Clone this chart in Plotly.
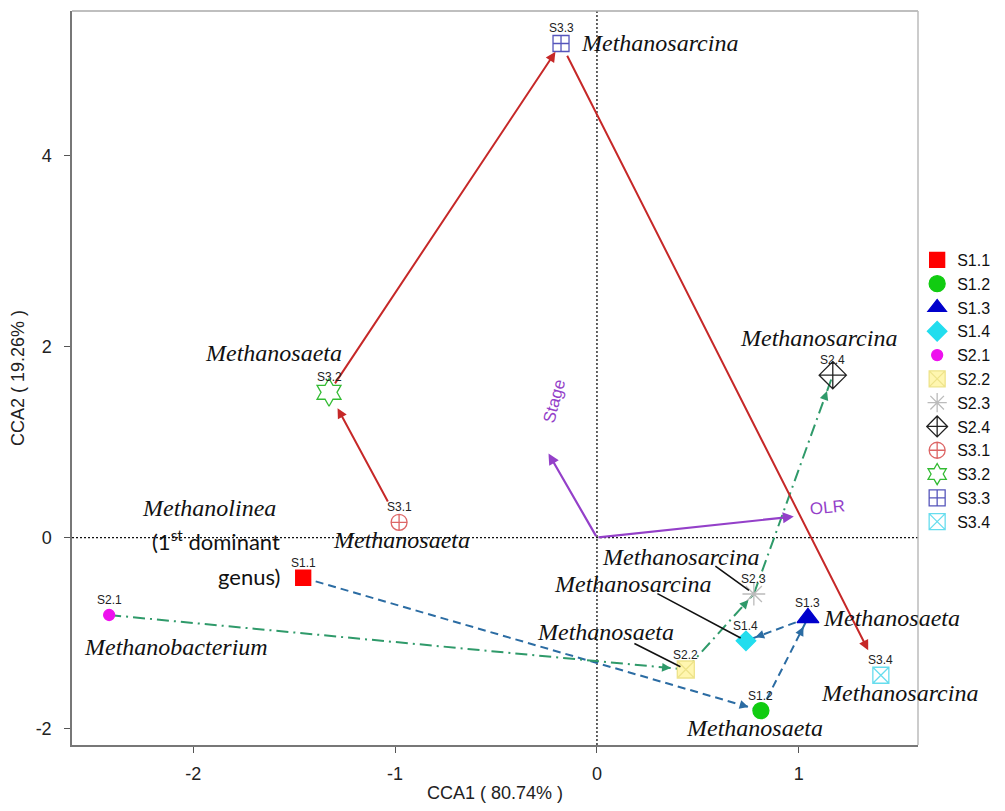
import math
import plotly.graph_objects as go

# ---------------- data ----------------
samples = ["S1.1", "S1.2", "S1.3", "S1.4", "S2.1", "S2.2", "S2.3", "S2.4",
           "S3.1", "S3.2", "S3.3", "S3.4"]
cca1 = [-1.455, 0.812, 1.045, 0.738, -2.416, 0.440, 0.777, 1.168,
        -0.980, -1.327, -0.178, 1.406]
cca2 = [-0.42, -1.81, -0.84, -1.08, -0.81, -1.38, -0.59, 1.70,
        0.16, 1.52, 5.17, -1.44]

env_names = ["Stage", "OLR"]
env_cca1 = [-0.24, 0.975]
env_cca2 = [0.88, 0.22]

stage1_path = ["S1.1", "S1.2", "S1.3", "S1.4"]
stage2_path = ["S2.1", "S2.2", "S2.3", "S2.4"]
stage3_path = ["S3.1", "S3.2", "S3.3", "S3.4"]

x_ticks = [-2, -1, 0, 1]
x_tick_text = ["-2", "-1", "0", "1"]
y_ticks = [-2, 0, 2, 4]
y_tick_text = ["-2", "0", "2", "4"]

x_title = "CCA1 ( 80.74% )"
y_title = "CCA2 ( 19.26% )"

# genus labels: text, x, y, xanchor
genus_labels = [
    ("Methanosarcina", -0.089, 5.17, "left"),
    ("Methanosaeta", -1.60, 1.93, "center"),
    ("Methanosaeta", -1.317, -0.025, "left"),
    ("Methanobacterium", -2.084, -1.145, "center"),
    ("Methanosarcina", 1.099, 2.09, "center"),
    ("Methanosarcina", 0.414, -0.20, "center"),
    ("Methanosarcina", 0.178, -0.485, "center"),
    ("Methanosaeta", 0.040, -0.985, "center"),
    ("Methanosaeta", 1.109, -0.84, "left"),
    ("Methanosarcina", 1.099, -1.625, "left"),
    ("Methanosaeta", 0.782, -1.99, "center"),
]
# leader lines: start (x, y) -> sample
leaders = [
    (0.579, -0.287, "S2.3"),
    (0.292, -0.578, "S1.4"),
    (0.178, -1.100, "S2.2"),
]

# ---------------- styles ----------------
styles = {
    "S1.1": dict(symbol="square", color="#FF0000", size=15, line="#FF0000"),
    "S1.2": dict(symbol="circle", color="#11CC11", size=16, line="#11CC11"),
    "S1.3": dict(symbol="triangle-up", color="#0000CC", size=19, line="#0000CC"),
    "S1.4": dict(symbol="diamond", color="#22DDEE", size=15, line="#22DDEE"),
    "S2.1": dict(symbol="circle", color="#EE11EE", size=11, line="#EE11EE"),
    "S2.2": dict(symbol="square-x", color="#FFF6B0", size=17, line="#EEE38A"),
    "S2.3": dict(symbol="asterisk-open", color="#BBBBBB", size=19, line="#BBBBBB"),
    "S2.4": dict(symbol="diamond-cross-open", color="#222222", size=21, line="#222222"),
    "S3.1": dict(symbol="circle-cross-open", color="#DD6666", size=16, line="#DD6666"),
    "S3.2": dict(symbol="hexagram-open", color="#33BB33", size=21, line="#33BB33"),
    "S3.3": dict(symbol="square-cross-open", color="#5555BB", size=16, line="#5555BB"),
    "S3.4": dict(symbol="square-x-open", color="#66DDEE", size=16, line="#66DDEE"),
}

RED = "#C62828"
BLUE = "#2B6CA3"
GREEN = "#2F9A6A"
PURPLE = "#9440C9"

# page body has an 8px margin, figure sized to fit the 1005x811 window
W, H = 989, 795
ML, MR, MT, MB = 64, 79, 3, 58
XR = [-2.6, 1.59]
YR = [-2.17, 5.51]
SX = (W - ML - MR) / (XR[1] - XR[0])
SY = (H - MT - MB) / (YR[1] - YR[0])

pos = {s: (x, y) for s, x, y in zip(samples, cca1, cca2)}

fig = go.Figure()
annotations = []


def head_only(x0, y0, x1, y1, color, standoff, width=1.6):
    dxp = (x1 - x0) * SX
    dyp = (y1 - y0) * SY
    n = math.hypot(dxp, dyp)
    L = standoff + 8
    annotations.append(dict(
        x=x1, y=y1, xref="x", yref="y", text="", showarrow=True,
        ax=-dxp / n * L, ay=dyp / n * L, axref="pixel", ayref="pixel",
        arrowhead=2, arrowsize=1.1, arrowwidth=width, arrowcolor=color,
        standoff=standoff))


def dashed_path(path, color, dash, standoffs):
    for i in range(len(path) - 1):
        x0, y0 = pos[path[i]]
        x1, y1 = pos[path[i + 1]]
        fig.add_trace(go.Scatter(
            x=[x0, x1], y=[y0, y1], mode="lines", showlegend=False,
            hoverinfo="skip", line=dict(color=color, width=2, dash=dash)))
        head_only(x0, y0, x1, y1, color, standoffs[i])


dashed_path(stage1_path, BLUE, "8px,5px", [13, 10, 10])
dashed_path(stage2_path, GREEN, "12px,5px,2px,5px", [15, 8, 17])

# solid red arrows for stage 3
red_standoffs = [18, 10, 28]
red_start = [22, 9, 12]
for i in range(len(stage3_path) - 1):
    x0, y0 = pos[stage3_path[i]]
    x1, y1 = pos[stage3_path[i + 1]]
    annotations.append(dict(
        x=x1, y=y1, xref="x", yref="y", ax=x0, ay=y0, axref="x", ayref="y",
        text="", showarrow=True, arrowhead=2, arrowsize=1.0, arrowwidth=2,
        arrowcolor=RED, standoff=red_standoffs[i], startstandoff=red_start[i]))

# environmental vectors
for name, ex, ey in zip(env_names, env_cca1, env_cca2):
    annotations.append(dict(
        x=ex, y=ey, xref="x", yref="y", ax=0, ay=0, axref="x", ayref="y",
        text="", showarrow=True, arrowhead=2, arrowsize=1.0, arrowwidth=2.2,
        arrowcolor=PURPLE))

annotations.append(dict(x=-0.21, y=1.42, xref="x", yref="y", text="Stage",
                        showarrow=False, textangle=-75,
                        font=dict(family="Liberation Sans", size=17, color=PURPLE)))
annotations.append(dict(x=1.14, y=0.31, xref="x", yref="y", text="OLR",
                        showarrow=False, textangle=-6,
                        font=dict(family="Liberation Sans", size=17, color=PURPLE)))

# sample markers (also legend)
for s in samples:
    st = styles[s]
    fig.add_trace(go.Scatter(
        x=[pos[s][0]], y=[pos[s][1]], mode="markers", name=s,
        marker=dict(symbol=st["symbol"], color=st["color"], size=st["size"],
                    line=dict(color=st["line"], width=1.3))))
    annotations.append(dict(x=pos[s][0], y=pos[s][1], xref="x", yref="y",
                            text=s, showarrow=False, yshift=15,
                            font=dict(family="Liberation Sans", size=12, color="#222222")))

# leader lines
for lx, ly, s in leaders:
    annotations.append(dict(
        x=pos[s][0], y=pos[s][1], xref="x", yref="y", ax=lx, ay=ly,
        axref="x", ayref="y", text="", showarrow=True, arrowhead=0,
        arrowwidth=1.6, arrowcolor="#111111", standoff=6))

# genus labels
for txt, gx, gy, anchor in genus_labels:
    annotations.append(dict(
        x=gx, y=gy, xref="x", yref="y", text="<i>" + txt + "</i>",
        showarrow=False, xanchor=anchor,
        font=dict(family="Liberation Serif", size=24, color="#111111")))

annotations.append(dict(x=-1.92, y=0.31, xref="x", yref="y",
                        text="<i>Methanolinea</i>", showarrow=False,
                        font=dict(family="Liberation Serif", size=24, color="#111111")))
annotations.append(dict(x=-1.56, y=-0.025, xref="x", yref="y", xanchor="right",
                        text="(1<sup>st</sup> dominant", showarrow=False,
                        font=dict(family="Lato", size=22, color="#111111")))
annotations.append(dict(x=-1.56, y=-0.41, xref="x", yref="y", xanchor="right",
                        text="genus)", showarrow=False,
                        font=dict(family="Lato", size=22, color="#111111")))

shapes = [
    dict(type="line", xref="x", yref="paper", x0=0, x1=0, y0=0, y1=1,
         line=dict(color="#111111", width=1.3, dash="2px,2px"), layer="below"),
    dict(type="line", xref="paper", yref="y", x0=0, x1=1, y0=0, y1=0,
         line=dict(color="#111111", width=1.3, dash="2px,2px"), layer="below"),
    dict(type="line", xref="paper", yref="paper", x0=0, x1=1, y0=1, y1=1,
         line=dict(color="#AAAAAA", width=1.5)),
    dict(type="line", xref="paper", yref="paper", x0=1, x1=1, y0=0, y1=1,
         line=dict(color="#BBBBBB", width=1.5)),
]

axis_font = dict(family="Liberation Sans", size=18, color="#222222")
fig.update_layout(
    width=W, height=H,
    margin=dict(l=ML, r=MR, t=MT, b=MB, autoexpand=False),
    paper_bgcolor="white", plot_bgcolor="white",
    annotations=annotations, shapes=shapes,
    showlegend=True,
    legend=dict(x=0.999, y=0.684, xanchor="left", yanchor="top",
                font=dict(family="Liberation Sans", size=16, color="#111111"),
                bgcolor="rgba(0,0,0,0)", borderwidth=0, tracegroupgap=0,
                itemwidth=30),
    xaxis=dict(range=XR, tickvals=x_ticks, ticktext=x_tick_text,
               ticks="outside", ticklen=6, tickwidth=1.3, tickcolor="#555555",
               showline=True, linecolor="#777777", linewidth=1.5,
               showgrid=False, zeroline=False, tickfont=axis_font,
               ticklabelstandoff=6,
               title=dict(text=x_title, font=axis_font, standoff=9),
               automargin=False),
    yaxis=dict(range=YR, tickvals=y_ticks, ticktext=y_tick_text,
               ticks="outside", ticklen=6, tickwidth=1.3, tickcolor="#555555",
               showline=True, linecolor="#777777", linewidth=1.5,
               showgrid=False, zeroline=False, tickfont=axis_font,
               ticklabelstandoff=9,
               title=dict(text=y_title, font=axis_font, standoff=10),
               automargin=False),
)

fig.write_html("out.html")
